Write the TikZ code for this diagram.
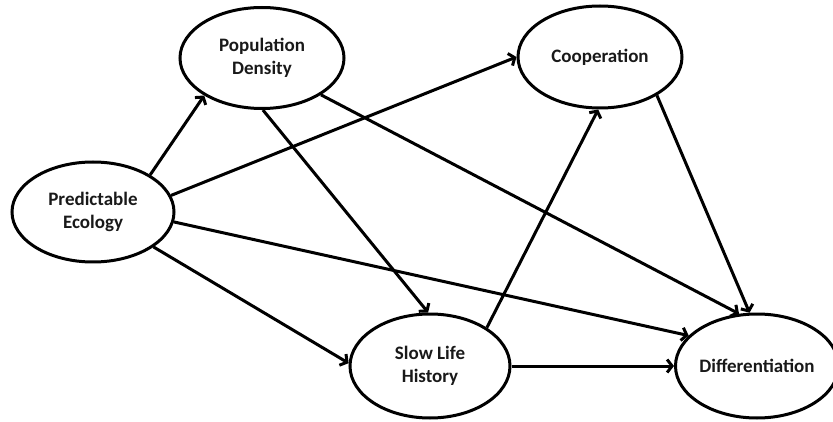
\documentclass[tikz,border=0pt]{standalone}
\usepackage{fontspec}
\setmainfont{Carlito}
\usetikzlibrary{shapes.geometric,arrows.meta}
\begin{document}
\begin{tikzpicture}[x=1pt,y=-1pt,
  var/.style={ellipse,draw=black,line width=3pt,inner sep=0pt,align=center,
    font=\fontsize{19}{23.5}\selectfont\bfseries,text=black!90},
  link/.style={line width=3pt,-{Straight Barb[length=5pt,width=13pt]}}]
\useasboundingbox (0,0) rectangle (833,422);
\node[var,minimum width=162pt,minimum height=100pt] (pe) at (93,212) {Predictable\\Ecology};
\node[var,minimum width=164pt,minimum height=101pt] (pd) at (262,58) {Population\\Density};
\node[var,minimum width=164pt,minimum height=102pt] (co) at (600,57) {Cooperation};
\node[var,minimum width=160pt,minimum height=104pt] (sl) at (430,366) {Slow Life\\History};
\node[var,minimum width=150pt,minimum height=104pt] (di) at (757,366) {Differentiation};
\draw[link] (pe.33) -- (pd.213);
\draw[link] (pe.12) -- (co.180);
\draw[link] (pe.-7) -- (di.156);
\draw[link] (pe.-30) -- (sl.178);
\draw[link] (pd.-89) -- (sl.92);
\draw[link] (pd.-32) -- (di.109);
\draw[link] (sl.34) -- (co.-92);
\draw[link] (sl.0) -- (di.180);
\draw[link] (co.-34) -- (di.98);
\end{tikzpicture}
\end{document}
